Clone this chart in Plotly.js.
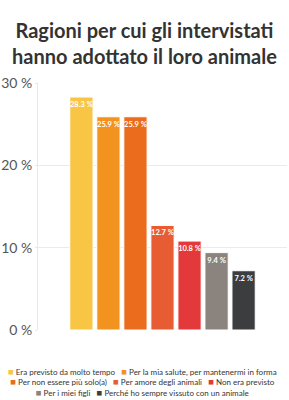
<!DOCTYPE html>
<html><head><meta charset="utf-8">
<script src="https://cdn.plot.ly/plotly-3.0.1.min.js"></script>
<style>html,body{margin:0;padding:0;background:#fff}#chart{width:289px;height:400px}</style>
</head><body><div id="chart"></div>
<script>
const categories = ["Era previsto da molto tempo","Per la mia salute, per mantenermi in forma","Per non essere più solo(a)","Per amore degli animali","Non era previsto","Per i miei figli","Perché ho sempre vissuto con un animale"];
const values = [28.3, 25.9, 25.9, 12.7, 10.8, 9.4, 7.2];
const labels = ["28.3 %","25.9 %","25.9 %","12.7 %","10.8 %","9.4 %","7.2 %"];
const colors = ["#F8C544","#F3931F","#EA6C1C","#E85C34","#E3393A","#8B837D","#3B3D3F"];
const yTicks = [0,10,20,30];
const legendRows = [[0,1],[2,3,4],[5,6]];

const traces = categories.map((c,i)=>({
  type:'bar', name:c, x:['all'], y:[values[i]], text:[labels[i]],
  textposition:'inside', insidetextanchor:'end', textangle:0, constraintext:'none',
  textfont:{family:'Lato', size:7.5, color:'#fff', weight:'bold'},
  marker:{color:colors[i], line:{color:'#fff', width:1}},
  hoverinfo:'none', showlegend:false
}));

const NB = '\u00a0';
const legendText = legendRows.map(row => row.map(i =>
  '<span style="color:' + colors[i] + ';font-size:9.5px">■</span>' + NB + categories[i]
).join(NB+NB+NB)).join('<br>');

const layout = {
  width:289, height:400,
  margin:{l:38, r:2, t:83, b:70},
  font:{family:'Lato'},
  title:{text:'<b>Ragioni per cui gli intervistati<br>hanno adottato il loro animale</b>', x:0.5, xanchor:'center', y:0.906, yanchor:'middle', font:{family:'Lato', size:20, color:'#333'}},
  barmode:'group', bargap:0.24, bargroupgap:0.14,
  xaxis:{visible:false},
  yaxis:{range:[0,30], tickvals:yTicks, ticktext:yTicks.map(v=>v+' %'), showgrid:true, gridcolor:'#ebebeb', zeroline:false, showline:true, linecolor:'#e8e8e8', ticks:'outside', ticklen:2, tickcolor:'#e8e8e8', tickfont:{family:'Lato', size:14, color:'#555'}},
  annotations:[{text:legendText, xref:'paper', yref:'paper', x:0.418, xanchor:'center', y:-0.136, yanchor:'top', showarrow:false, align:'center', font:{family:'Lato', size:8, color:'#333'}}],
  paper_bgcolor:'#fff', plot_bgcolor:'#fff'
};
Plotly.newPlot('chart', traces, layout, {displayModeBar:false, staticPlot:true});
</script></body></html>
